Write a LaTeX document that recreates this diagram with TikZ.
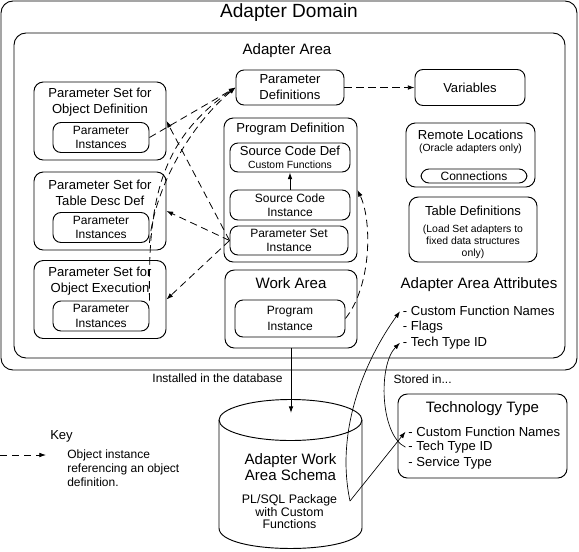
\documentclass[tikz,border=0pt]{standalone}
\usepackage{fontspec}
\setmainfont{Liberation Sans}
\usetikzlibrary{arrows.meta,fit}
\tikzset{
    box/.style={draw,rounded corners=7pt,line width=0.7pt,align=center,inner sep=0pt},
    ibox/.style={box,rounded corners=6pt},
    item/.style={fstd,anchor=west,inner sep=2pt},
    ref/.style={line width=0.6pt,dash pattern=on 5.5pt off 3.5pt,-{Latex[length=5pt,width=3.5pt]}},
    lnk/.style={line width=0.5pt,-{Latex[length=5pt,width=3.5pt]}},
    fdom/.style={font=\fontsize{14.3}{16}\selectfont},
    fbig/.style={font=\fontsize{11.3}{12.3}\selectfont,align=center},
    fstd/.style={font=\fontsize{9.8}{12}\selectfont,align=center},
    finst/.style={font=\fontsize{9}{10.7}\selectfont,align=center},
    fsml/.style={font=\fontsize{7.8}{9}\selectfont,align=center},
}

\begin{document}
\begin{tikzpicture}[x=0.75pt,y=-0.75pt]
			\useasboundingbox (0,0) rectangle (579,551);
			\node (dom) [box,rounded corners=9pt,fit={(1,1) (577,370)}] {};
			\node (domt) at (289,13) [fdom] {Adapter Domain};
			\node (area) [box,rounded corners=9pt,fit={(14,33) (565,358)}] {};
			\node (areat) at (287,51) [fbig] {Adapter Area};
			% parameter sets on the left
			\foreach \n/\y/\t in {od/121/Object Definition,td/211/Table Desc Def,oe/299.5/Object Execution}{
				\node (\n box) at (100,\y) [box,minimum width=99pt,minimum height=58.5pt] {};
				\node (\n title) at (100,\y-18.5) [fstd] {Parameter Set for\\\t};
				\node (\n inst) at (101,\y+16.5) [ibox,finst,minimum width=72pt,minimum height=22.5pt] {Parameter\\Instances};
			}
			\node (pdef) at (290,87.5) [ibox,fstd,minimum width=81pt,minimum height=26.25pt] {Parameter\\Definitions};
			\node (vars) at (470,87.5) [ibox,fstd,minimum width=82.5pt,minimum height=27pt] {Variables};
			\node (progdef) at (290.5,190) [box,minimum width=99.75pt,minimum height=108pt] {};
			\node (progt) at (290.5,129.5) [fstd] {Program Definition};
			\node (scdef) at (290,157.5) [ibox,fstd,minimum width=90pt,minimum height=21.75pt] {Source Code Def\\[-2pt]\fontsize{7.8}{9}\selectfont Custom Functions};
			\node (scinst) at (290,205) [ibox,finst,minimum width=90pt,minimum height=22.5pt] {Source Code\\Instance};
			\node (psinst) at (289,240.5) [ibox,finst,minimum width=88.5pt,minimum height=21.75pt] {Parameter Set\\Instance};
			\node (work) at (291,309) [box,minimum width=99pt,minimum height=58.5pt] {};
			\node (workt) at (291,283.3) [fbig] {Work Area};
			\node (proginst) at (290,318.5) [ibox,finst,minimum width=82.5pt,minimum height=27.75pt] {Program\\[1.8pt]Instance};
			% right column
			\node (remote) at (470.5,155) [box,minimum width=96.75pt,minimum height=48pt] {};
			\node (remt) at (470.5,135.3) [fstd] {Remote Locations};
			\node (remn) at (470.5,148.5) [fsml] {(Oracle adapters only)};
			\node (conn) at (474,176) [ibox,finst,minimum width=79.5pt,minimum height=10.5pt] {Connections};
			\node (tabdef) at (473,229.5) [box,minimum width=96pt,minimum height=48.75pt] {};
			\node (tabt) at (473,211.2) [fstd] {Table Definitions};
			\node (tabn) at (473,242) [fsml] {(Load Set adapters to\\fixed data structures\\only)};
			\node (attrt) at (479,284.7) [fbig] {Adapter Area Attributes};
			\node (attr1) at (400,311.3) [item] {- Custom Function Names};
			\node (attr2) at (400,327.2) [item] {- Flags};
			\node (attr3) at (400,342.8) [item] {- Tech Type ID};
			% below the domain
			\node (inst) at (217.5,378.5) [finst] {Installed in the database};
			\node (stored) at (393.3,379.2) [finst,anchor=west,inner sep=0pt] {Stored in...};
			\draw[line width=0.7pt] (290.5,420) ellipse [x radius=71.5,y radius=20.5];
			\draw[line width=0.7pt] (219,420) -- (219,528) .. controls (219,555.3) and (362,555.3) .. (362,528) -- (362,420);
			\node (cylt) at (290.5,467.3) [fbig] {Adapter Work\\Area Schema};
			\node (pkg) at (289.5,511.7) [font=\fontsize{9.3}{9.4}\selectfont,align=center] {PL/SQL Package\\with Custom\\Functions};
			\coordinate (cyltop) at (291,413);
			\coordinate (pkgend) at (350,501);
			\node (tech) at (482.5,436) [box,minimum width=126.75pt,minimum height=63pt] {};
			\node (techt) at (482.5,408.3) [fbig] {Technology Type};
			\node (tt1) at (405.5,431.7) [item] {- Custom Function Names};
			\node (tt2) at (405.5,447.2) [item] {- Tech Type ID};
			\node (tt3) at (405.5,463.3) [item] {- Service Type};
			% key
			\node (key) at (50,436.2) [fstd,anchor=west,inner sep=0pt] {Key};
			\coordinate (k1) at (0,455);
			\coordinate (k2) at (46,455);
			\node (keytxt) at (67,468.3) [finst,anchor=west,align=left,inner sep=0pt] {Object instance\\referencing an object\\definition.};
			% references
			\draw[ref] (k1) -- (k2);
			\draw[ref] (pdef.east) -- (vars.west);
			\draw[ref] (odinst.east) -- (pdef.west);
			\draw[ref] (oeinst.north east) .. controls (148,200) and (160,140) .. (pdef.west);
			\draw[ref] (tdinst.south east) .. controls (153,195) and (185,130) .. (pdef.west);
			\draw[ref] (psinst.west) -- (odbox.east);
			\draw[ref] (psinst.west) -- (tdbox.east);
			\draw[ref] (psinst.west) -- (oebox.east);
			\draw[ref] (proginst.east) .. controls (372,285) and (372,220) .. (progdef.east);
			\draw[lnk,line width=0.7pt] (scinst) -- (scdef);
			\draw[lnk,line width=0.7pt] (work.south) -- (cyltop);
			\draw[lnk] (pkgend) .. controls (335,430) and (365,360) .. (attr1.west);
			\draw[lnk] (pkgend) -- (tt1.west);
			\draw[lnk] (tt2.west) .. controls (380,435) and (378,365) .. (attr3.west);
		\end{tikzpicture}
\end{document}
